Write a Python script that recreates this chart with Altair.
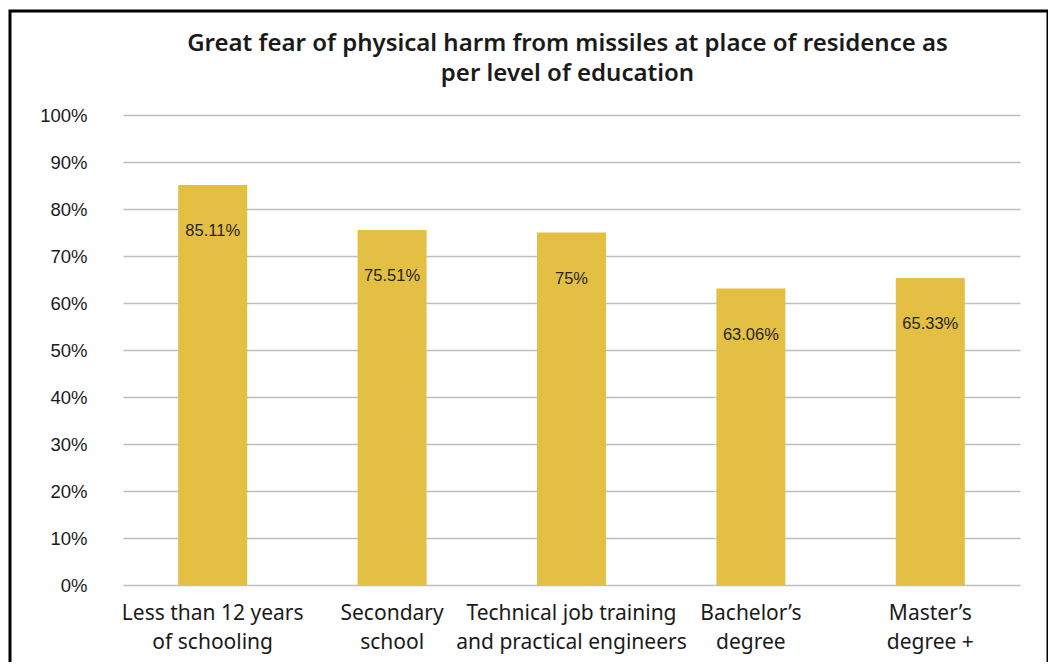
import altair as alt
import pandas as pd

categories = [
    "Less than 12 years|of schooling",
    "Secondary|school",
    "Technical job training|and practical engineers",
    "Bachelor’s|degree",
    "Master’s|degree +",
]
values = [0.8511, 0.7551, 0.75, 0.6306, 0.6533]
value_labels = ["85.11%", "75.51%", "75%", "63.06%", "65.33%"]
title_lines = ["Great fear of physical harm from missiles at place of residence as",
               "per level of education"]

df = pd.DataFrame({"category": categories, "value": values, "label": value_labels})

W, H = 897, 470
PL, PT, PR, PB = 115, 107, 28, 77

x = alt.X("category:N", sort=categories, title=None,
          scale=alt.Scale(paddingInner=0.6, paddingOuter=0.3),
          axis=alt.Axis(labelAngle=0, labelExpr="split(datum.label, '|')",
                        labelFont="Noto Sans", labelFontSize=21, labelColor="#1a1a1a",
                        labelLineHeight=29, labelPadding=17, ticks=False, domain=False,
                        labelLimit=300))
y = alt.Y("value:Q", title=None,
          scale=alt.Scale(domain=[0, 1], nice=False),
          axis=alt.Axis(values=[i / 10 for i in range(11)], format=".0%",
                        labelFont="Liberation Sans", labelFontSize=18.5, labelColor="#1a1a1a",
                        labelPadding=36, ticks=False, domain=False,
                        grid=True, gridColor="#BEBEBE", gridWidth=1.5))

base = alt.Chart(df)
bars = base.mark_bar(color="#E3BF43", size=69).encode(x=x, y=y)
texts = base.mark_text(font="Liberation Sans", fontSize=16.5, color="#262626",
                       baseline="middle", dy=46).encode(x=x, y=y, text="label:N")

one = pd.DataFrame({"a": [0]})
frame = alt.Chart(one).mark_rect(
    fill=None, stroke="#000000", strokeWidth=3
).encode(x=alt.value(-113), x2=alt.value(925), y=alt.value(-104), y2=alt.value(600))

title = alt.Chart(one).mark_text(
    text=title_lines, font="Noto Sans", fontSize=24, fontWeight=600, color="#1a1a1a",
    lineHeight=30, align="center", baseline="middle"
).encode(x=alt.value(W / 2 - 4), y=alt.value(-71))

chart = alt.layer(frame, bars, texts, title).properties(
    width=W, height=H,
    autosize=alt.AutoSizeParams(type="none"),
    padding={"left": PL, "top": PT, "right": PR, "bottom": PB},
).configure(background="white").configure_view(strokeWidth=0, stroke=None)

chart.save("out.html", embed_options={"renderer": "svg", "actions": False})
